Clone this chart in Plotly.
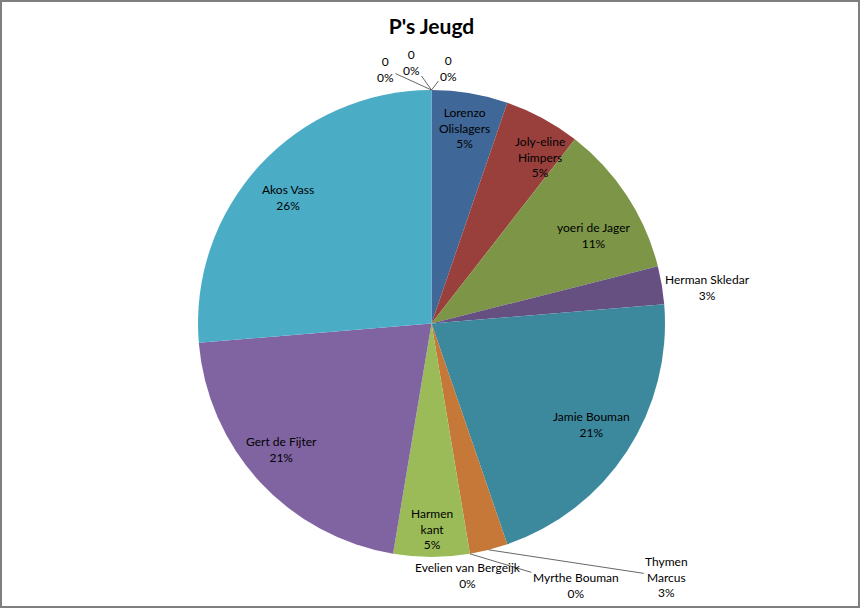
import math
import plotly.graph_objects as go

# data (counts per player, clockwise from 12 o'clock)
names = ["Lorenzo Olislagers", "Joly-eline Himpers", "yoeri de Jager", "Herman Skledar",
         "Jamie Bouman", "Thymen Marcus", "Myrthe Bouman", "Evelien van Bergeijk",
         "Harmen kant", "Gert de Fijter", "Akos Vass", "0", "0", "0"]
values = [2, 2, 4, 1, 8, 1, 0, 0, 2, 8, 10, 0, 0, 0]
# label text as Excel wraps it
label_text = ["Lorenzo<br>Olislagers", "Joly-eline<br>Himpers", "yoeri de Jager", "Herman Skledar",
              "Jamie Bouman", "Thymen<br>Marcus", "Myrthe Bouman", "Evelien van Bergeijk",
              "Harmen<br>kant", "Gert de Fijter", "Akos Vass", "0", "0", "0"]

# Excel 2007 palette, first round darker
accents = ["#4F81BD", "#C0504D", "#9BBB59", "#8064A2", "#4BACC6", "#F79646"]


def shade(hx, k):
    r, g, b = int(hx[1:3], 16), int(hx[3:5], 16), int(hx[5:7], 16)
    return "#%02X%02X%02X" % (int(r * k), int(g * k), int(b * k))


colors = [shade(accents[i % 6], 0.8) if i < 6 else accents[i % 6] for i in range(len(values))]

W, H = 861, 609
L, T, R_ = 198, 90, 196
PW = W - L - R_
PH = 467

fig = go.Figure(go.Pie(
    labels=[f"{n} {i}" for i, n in enumerate(names)],
    values=values,
    sort=False,
    direction="clockwise",
    rotation=0,
    marker=dict(colors=colors, line=dict(width=0)),
    textposition="none",
    hoverinfo="label+value+percent",
    showlegend=False,
))

total = sum(values)
font = dict(family="Lato, Open Sans, sans-serif", size=12, color="#000000")

# label placement: (radius fraction, angle nudge) for inside labels,
# or pixel offset from slice edge for leader-line labels
inside = {0: (0.85, 0), 1: (0.85, 4.8), 2: (0.79, 4.7), 3: (1.19, 2), 4: (0.81, -1),
          8: (0.88, 0), 9: (0.84, 2.6), 10: (0.82, -1.4)}
leader = {5: (178, 27), 6: (106, 32), 7: (-2, 22), 11: (-46, -21), 12: (-20, -28), 13: (17, -22)}

cum = 0
for i, v in enumerate(values):
    mid = (cum + v / 2) / total * 360
    cum += v
    pct = round(100 * v / total)
    txt = f"{label_text[i]}<br>{pct}%"
    a = math.radians(mid)
    if i in inside:
        f, d = inside[i]
        a = math.radians(mid + d)
        fig.add_annotation(x=0.5 + 0.5 * f * math.sin(a), y=0.5 + 0.5 * f * math.cos(a),
                           xref="paper", yref="paper", text=txt, showarrow=False,
                           xanchor="center", yanchor="middle",
                           font=font, align="center")
    elif i == 7:
        # label sits right under its slice edge, leader hidden behind text
        ax, ay = leader[i]
        fig.add_annotation(x=0.5 + 0.5 * math.sin(a), y=0.5 + 0.5 * math.cos(a),
                           xref="paper", yref="paper", text=txt, showarrow=False,
                           xanchor="center", yanchor="middle", xshift=ax, yshift=-ay,
                           font=font, align="center")
    else:
        ax, ay = leader[i]
        fig.add_annotation(x=0.5 + 0.5 * math.sin(a), y=0.5 + 0.5 * math.cos(a),
                           xref="paper", yref="paper", text=txt, showarrow=True,
                           ax=ax, ay=ay, arrowhead=0, arrowwidth=0.8, arrowcolor="#404040",
                           font=font, align="center")

# chart area border
fig.add_shape(type="rect", xref="paper", yref="paper",
              x0=(1 - L) / PW, x1=(859 - L) / PW,
              y0=1 - (607 - T) / PH, y1=1 - (1 - T) / PH,
              line=dict(color="#7F7F7F", width=2), layer="below")

fig.update_layout(
    width=W, height=H,
    margin=dict(l=L, r=R_, t=T, b=H - T - PH),
    paper_bgcolor="white",
    plot_bgcolor="white",
    title=dict(text="<b>P's Jeugd</b>", x=0.5, xref="paper", y=1 - 27 / H, yref="container",
               yanchor="middle", font=dict(family="Lato, Open Sans, sans-serif", size=21, color="#000000")),
)

fig.write_html("out.html", config={"displayModeBar": False},
               post_script="document.body.style.margin='0';document.body.style.overflow='hidden';")
